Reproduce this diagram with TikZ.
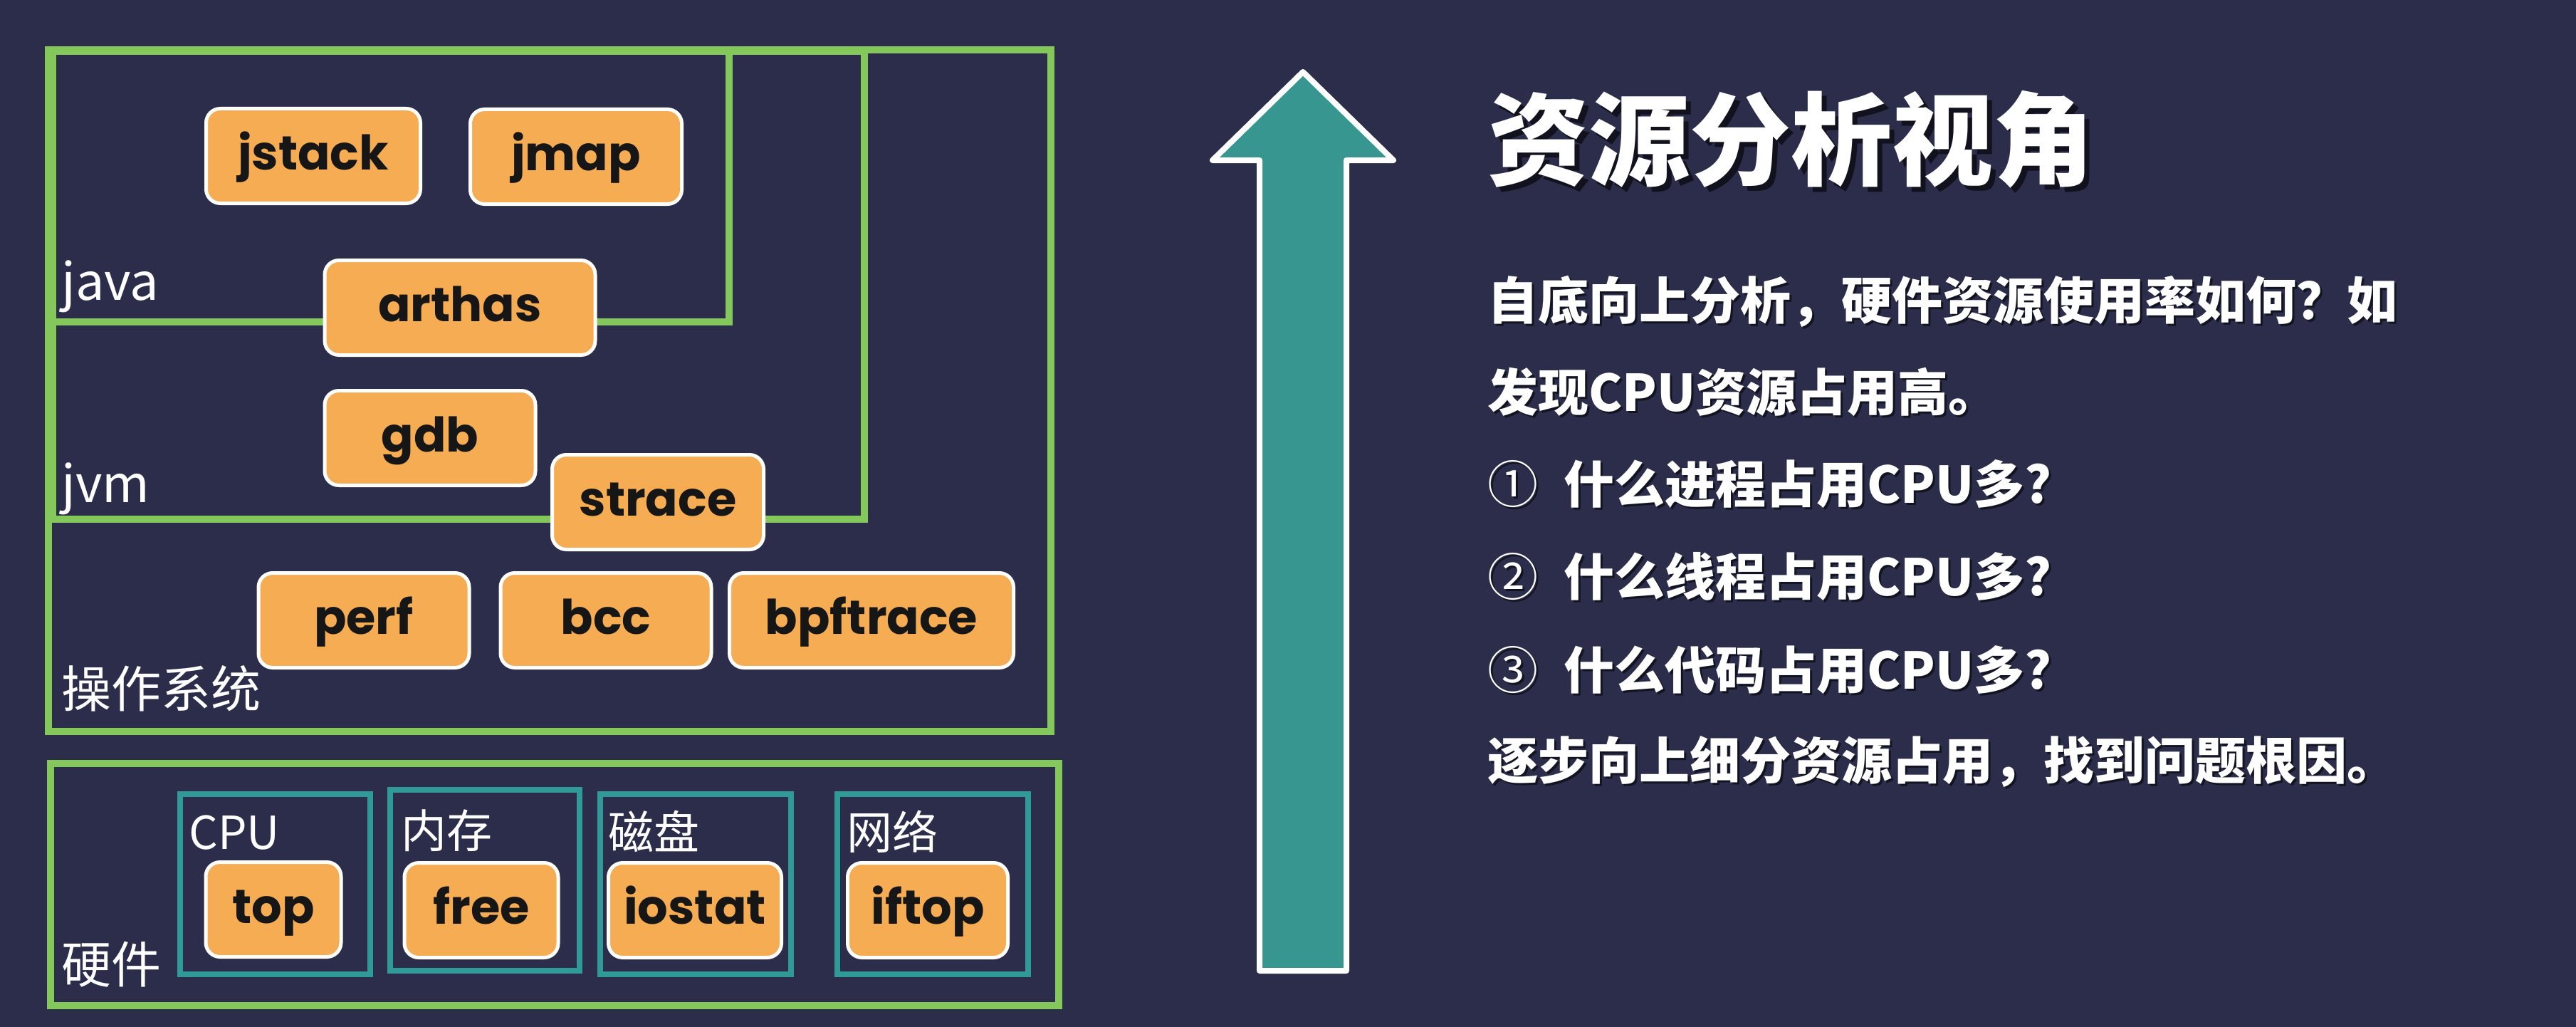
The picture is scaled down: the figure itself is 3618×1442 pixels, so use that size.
\documentclass[tikz,border=0pt]{standalone}
\usepackage{fontspec}
\setmainfont{Noto Sans CJK SC}
\newfontfamily\toolfont{Poppins}
\newcommand\fsz[1]{\fontsize{#1}{#1}\selectfont}
\definecolor{bgnavy}{HTML}{2B2D4A}
\definecolor{framegreen}{HTML}{84C75A}
\definecolor{hwteal}{HTML}{2F9A97}
\definecolor{arrowteal}{HTML}{389690}
\definecolor{toolorange}{HTML}{F5AC53}
\definecolor{toolink}{HTML}{161616}
\begin{document}
\begin{tikzpicture}[x=1pt,y=-1pt,
  frame/.style={draw=framegreen, line width=9.5pt},
  hwframe/.style={draw=hwteal, line width=8pt},
  tool/.style={draw=white, line width=5pt, fill=toolorange, rounded corners=20pt,
    inner sep=0pt, minimum height=133pt, font=\toolfont\bfseries\fsz{67},
    text=toolink, text height=38pt, text depth=0pt},
  lbl/.style={anchor=base west, inner sep=0pt, text=white, font=\fsz{72}},
  hwlbl/.style={anchor=base west, inner sep=0pt, text=white, font=\fsz{64}},
  body/.style={anchor=base west, inner sep=0pt, text=white, font=\bfseries\fsz{71}},
  bodyshadow/.style={anchor=base west, inner sep=0pt, text=black, opacity=0.55, font=\bfseries\fsz{71}},
]
\fill[bgnavy] (0,0) rectangle (3618,1442);
\useasboundingbox (0,0) rectangle (3618,1442);

% software layers
\draw[frame] (68,70) rectangle (1476,1027);
\draw[frame] (74,72) rectangle (1214,729);
\draw[frame] (74,72) rectangle (1024,452);

% hardware layer
\draw[frame] (71,1072) rectangle (1487,1412);
\draw[hwframe] (253,1115) rectangle (520,1368);
\draw[hwframe] (548,1109) rectangle (814,1363);
\draw[hwframe] (843,1115) rectangle (1111,1368);
\draw[hwframe] (1176,1115) rectangle (1444,1368);

% layer labels
\node[lbl] (ljava) at (86,421) {java};
\node[lbl] (ljvm) at (86,705) {jvm};
\node[lbl, font=\fsz{70}] (los) at (86,993) {操作系统};
\node[lbl, font=\fsz{70}] (lhw) at (86,1380) {硬件};
\node[hwlbl] (lcpu) at (265,1192) {CPU};
\node[hwlbl] (lmem) at (563,1190) {内存};
\node[hwlbl] (ldisk) at (854,1192) {磁盘};
\node[hwlbl] (lnet) at (1189,1192) {网络};

% tools
\node[tool, minimum width=301pt] (jstack) at (440,219) {jstack};
\node[tool, minimum width=297pt] (jmap) at (809,220) {jmap};
\node[tool, minimum width=380pt] (arthas) at (646,432) {arthas};
\node[tool, minimum width=296pt] (gdb) at (604,615) {gdb};
\node[tool, minimum width=297pt] (strace) at (924,705) {strace};
\node[tool, minimum width=296pt] (perf) at (511,871) {perf};
\node[tool, minimum width=296pt] (bcc) at (851,871) {bcc};
\node[tool, minimum width=399pt] (bpftrace) at (1224,871) {bpftrace};
\node[tool, minimum width=190pt] (top) at (384,1277) {top};
\node[tool, minimum width=216pt] (free) at (676,1278) {free};
\node[tool, minimum width=243pt] (iostat) at (976,1278) {iostat};
\node[tool, minimum width=225pt] (iftop) at (1303,1278) {iftop};

% big arrow
\draw[draw=white, line width=8pt, fill=arrowteal, line join=round]
  (1830,101) -- (1957,225) -- (1891,225) -- (1891,1363) -- (1769,1363)
  -- (1769,225) -- (1703,225) -- cycle;

% title
\node[anchor=base west, inner sep=0pt, text=black, opacity=0.6, font=\bfseries\fsz{142}] (titleshadow) at (2096,256) {资源分析视角};
\node[anchor=base west, inner sep=0pt, text=white, font=\bfseries\fsz{142}] (title) at (2089,249) {资源分析视角};

% body text
\node[bodyshadow] (s1) at (2092,451) {自底向上分析，硬件资源使用率如何？如};
\node[body] (t1) at (2089,448) {自底向上分析，硬件资源使用率如何？如};
\node[bodyshadow] (s2) at (2092,580) {发现CPU资源占用高。};
\node[body] (t2) at (2089,577) {发现CPU资源占用高。};
\node[bodyshadow] (s3) at (2092,709) {{\mdseries ①}\hspace{36pt}什么进程占用CPU多?};
\node[body] (t3) at (2089,706) {{\mdseries ①}\hspace{36pt}什么进程占用CPU多?};
\node[bodyshadow] (s4) at (2092,839) {{\mdseries ②}\hspace{36pt}什么线程占用CPU多?};
\node[body] (t4) at (2089,836) {{\mdseries ②}\hspace{36pt}什么线程占用CPU多?};
\node[bodyshadow] (s5) at (2092,970) {{\mdseries ③}\hspace{36pt}什么代码占用CPU多?};
\node[body] (t5) at (2089,967) {{\mdseries ③}\hspace{36pt}什么代码占用CPU多?};
\node[bodyshadow] (s6) at (2092,1097) {逐步向上细分资源占用，找到问题根因。};
\node[body] (t6) at (2089,1094) {逐步向上细分资源占用，找到问题根因。};
\end{tikzpicture}
\end{document}
